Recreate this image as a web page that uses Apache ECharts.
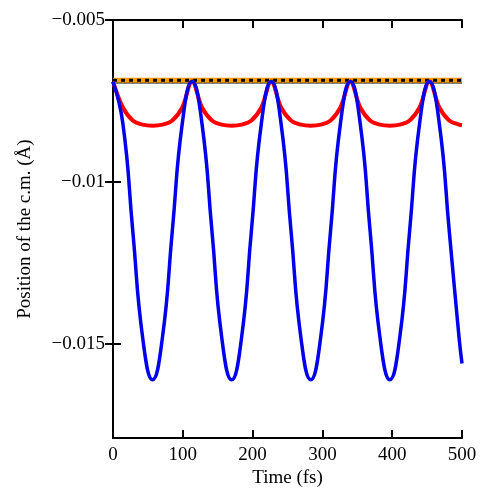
<!DOCTYPE html>
<html><head><meta charset="utf-8">
<script src="https://cdn.jsdelivr.net/npm/echarts@6/dist/echarts.min.js"></script>
<style>html,body{margin:0;background:#fff}#chart{width:488px;height:493px}</style>
</head><body><div id="chart"></div>
<script>
// time samples (fs), eighth-period steps
const times = [0,14.2,28.3,42.5,56.7,70.8,85,99.2,113.3,127.5,141.7,155.8,170,184.2,198.3,212.5,
  226.7,240.8,255,269.2,283.3,297.5,311.7,325.8,340,354.2,368.3,382.5,396.7,410.8,425,439.2,
  453.3,467.5,481.7,495.8,500]
const blueVals = [-0.0069,-0.0082,-0.0115,-0.0148,-0.0161,-0.0148,-0.0115,-0.0082,
  -0.0069,-0.0082,-0.0115,-0.0148,-0.0161,-0.0148,-0.0115,-0.0082,
  -0.0069,-0.0082,-0.0115,-0.0148,-0.0161,-0.0148,-0.0115,-0.0082,
  -0.0069,-0.0082,-0.0115,-0.0148,-0.0161,-0.0148,-0.0115,-0.0082,
  -0.0069,-0.0082,-0.0115,-0.0148,-0.0156]
const redVals = [-0.0069,-0.0077,-0.0081,-0.00823,-0.00826,-0.00823,-0.0081,-0.0077,
  -0.0069,-0.0077,-0.0081,-0.00823,-0.00826,-0.00823,-0.0081,-0.0077,
  -0.0069,-0.0077,-0.0081,-0.00823,-0.00826,-0.00823,-0.0081,-0.0077,
  -0.0069,-0.0077,-0.0081,-0.00823,-0.00826,-0.00823,-0.0081,-0.0077,
  -0.0069,-0.0077,-0.0081,-0.00823,-0.00825]
const blackVal = -0.00693
const orangeVal = -0.00686
const yTicks = [-0.015, -0.01, -0.005]

const pair = vals => times.map((t, i) => [t, vals[i]])
const flat = v => [[0, v], [500, v]]
const font = 'Liberation Serif'
const fmtY = v => String(v).replace('-', '\u2212')
const frame = { color: '#000', width: 2 }

const chart = echarts.init(document.getElementById('chart'))
chart.setOption({
  animation: false,
  grid: { left: 113, right: 26, top: 20, bottom: 53 },
  xAxis: [{
    type: 'value', min: 0, max: 500, interval: 100,
    name: 'Time (fs)', nameLocation: 'middle', nameGap: 27,
    nameTextStyle: { fontFamily: font, fontSize: 19, color: '#000' },
    axisLine: { lineStyle: frame },
    axisTick: { inside: true, length: 8, lineStyle: frame },
    axisLabel: { fontFamily: font, fontSize: 19, color: '#000', margin: 7 },
    splitLine: { show: false }
  }, {
    type: 'value', position: 'top', min: 0, max: 500, interval: 100,
    axisLine: { show: true, lineStyle: frame },
    axisTick: { inside: true, length: 8, lineStyle: frame },
    axisLabel: { show: false }, splitLine: { show: false }
  }],
  yAxis: [{
    type: 'value', min: -0.0179, max: -0.005,
    name: 'Position of the c.m. (\u00c5)', nameLocation: 'middle', nameGap: 78,
    nameTextStyle: { fontFamily: font, fontSize: 19, color: '#000' },
    axisLine: { show: true, lineStyle: frame },
    axisTick: { inside: true, length: 8, customValues: yTicks, lineStyle: frame },
    axisLabel: { fontFamily: font, fontSize: 19, color: '#000', customValues: yTicks, formatter: fmtY, margin: 8 },
    splitLine: { show: false }
  }, {
    type: 'value', position: 'right', min: -0.0179, max: -0.005,
    axisLine: { show: true, lineStyle: frame },
    axisTick: { inside: true, length: 8, customValues: yTicks, lineStyle: frame },
    axisLabel: { show: false }, splitLine: { show: false }
  }],
  series: [
    { type: 'line', data: flat(blackVal), symbol: 'none', lineStyle: { color: '#000', width: 2 } },
    { type: 'line', data: flat(orangeVal), symbol: 'none', lineStyle: { color: '#f5a000', width: 5 } },
    { type: 'line', data: flat(orangeVal), symbol: 'none', lineStyle: { color: '#000', width: 3, type: [4, 4] } },
    { type: 'line', data: pair(redVals), smooth: 0.35, symbol: 'none', lineStyle: { color: '#ff0000', width: 4 } },
    { type: 'line', data: pair(blueVals), smooth: 0.5, symbol: 'none', lineStyle: { color: '#0000ee', width: 3.5 } }
  ]
})
</script></body></html>
